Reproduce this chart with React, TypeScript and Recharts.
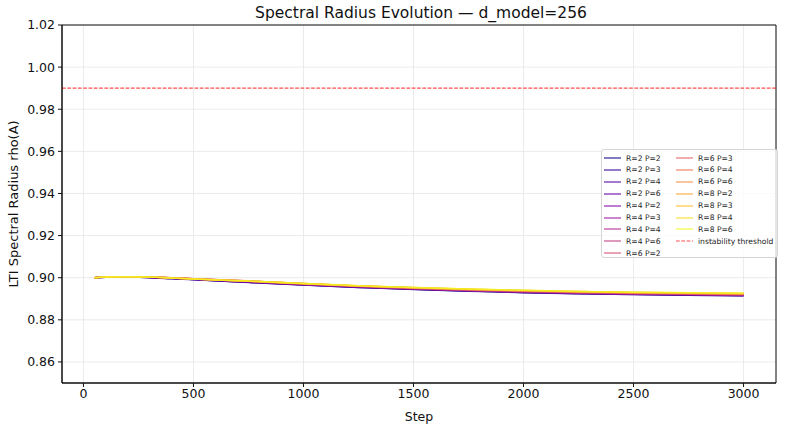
import { LineChart, Line, XAxis, YAxis, CartesianGrid, ReferenceLine, ReferenceArea } from 'recharts';

const steps = [50, 100, 200, 300, 400, 500, 750, 1000, 1250, 1500, 1750, 2000, 2250, 2500, 2750, 3000];

const seriesNames = [
  'R=2 P=2', 'R=2 P=3', 'R=2 P=4', 'R=2 P=6',
  'R=4 P=2', 'R=4 P=3', 'R=4 P=4', 'R=4 P=6',
  'R=6 P=2', 'R=6 P=3', 'R=6 P=4', 'R=6 P=6',
  'R=8 P=2', 'R=8 P=3', 'R=8 P=4', 'R=8 P=6',
];

// plasma colormap, one colour per run
const seriesColors = [
  '#0d0887', '#350498', '#5302a3', '#6a00a8',
  '#8405a7', '#9c179e', '#b12a90', '#c33d80',
  '#d35171', '#e16462', '#ed7953', '#f68f44',
  '#fca636', '#fec029', '#f9dc24', '#f0f921',
];

const r2p2 = [0.9000, 0.9002, 0.9003, 0.9001, 0.8996, 0.8991, 0.8978, 0.8965, 0.8954, 0.8944, 0.8936, 0.8929, 0.8924, 0.8920, 0.8917, 0.8914];
const r2p3 = [0.9000, 0.9002, 0.9003, 0.9000, 0.8995, 0.8990, 0.8977, 0.8965, 0.8954, 0.8945, 0.8937, 0.8930, 0.8925, 0.8921, 0.8918, 0.8915];
const r2p4 = [0.9000, 0.9003, 0.9003, 0.9001, 0.8996, 0.8991, 0.8978, 0.8966, 0.8955, 0.8945, 0.8937, 0.8930, 0.8924, 0.8920, 0.8917, 0.8914];
const r2p6 = [0.9000, 0.9002, 0.9003, 0.9001, 0.8997, 0.8992, 0.8979, 0.8967, 0.8956, 0.8946, 0.8938, 0.8931, 0.8926, 0.8922, 0.8919, 0.8916];
const r4p2 = [0.9000, 0.9003, 0.9004, 0.9002, 0.8998, 0.8993, 0.8981, 0.8968, 0.8957, 0.8947, 0.8939, 0.8933, 0.8927, 0.8923, 0.8920, 0.8917];
const r4p3 = [0.9000, 0.9003, 0.9004, 0.9003, 0.8999, 0.8994, 0.8982, 0.8969, 0.8958, 0.8948, 0.8940, 0.8933, 0.8928, 0.8924, 0.8921, 0.8918];
const r4p4 = [0.9000, 0.9003, 0.9004, 0.9002, 0.8998, 0.8994, 0.8982, 0.8968, 0.8957, 0.8947, 0.8939, 0.8932, 0.8927, 0.8923, 0.8920, 0.8917];
const r4p6 = [0.9000, 0.9003, 0.9004, 0.9003, 0.8999, 0.8995, 0.8983, 0.8970, 0.8959, 0.8949, 0.8941, 0.8935, 0.8929, 0.8925, 0.8922, 0.8919];
const r6p2 = [0.9000, 0.9003, 0.9005, 0.9003, 0.8999, 0.8995, 0.8984, 0.8971, 0.8960, 0.8950, 0.8942, 0.8936, 0.8930, 0.8926, 0.8923, 0.8920];
const r6p3 = [0.9000, 0.9003, 0.9004, 0.9003, 0.9000, 0.8995, 0.8984, 0.8971, 0.8960, 0.8951, 0.8943, 0.8937, 0.8931, 0.8927, 0.8924, 0.8921];
const r6p4 = [0.9000, 0.9003, 0.9005, 0.9003, 0.9000, 0.8995, 0.8985, 0.8972, 0.8961, 0.8951, 0.8944, 0.8937, 0.8932, 0.8928, 0.8925, 0.8922];
const r6p6 = [0.9000, 0.9003, 0.9004, 0.9003, 0.8999, 0.8995, 0.8984, 0.8972, 0.8961, 0.8952, 0.8944, 0.8938, 0.8933, 0.8929, 0.8926, 0.8922];
const r8p2 = [0.9000, 0.9003, 0.9004, 0.9003, 0.8999, 0.8994, 0.8983, 0.8971, 0.8961, 0.8952, 0.8945, 0.8939, 0.8934, 0.8930, 0.8927, 0.8924];
const r8p3 = [0.9000, 0.9003, 0.9004, 0.9003, 0.8999, 0.8994, 0.8984, 0.8972, 0.8962, 0.8953, 0.8945, 0.8939, 0.8934, 0.8930, 0.8928, 0.8925];
const r8p4 = [0.9000, 0.9003, 0.9004, 0.9003, 0.8999, 0.8994, 0.8984, 0.8972, 0.8962, 0.8953, 0.8946, 0.8940, 0.8935, 0.8931, 0.8928, 0.8926];
const r8p6 = [0.9000, 0.9003, 0.9004, 0.9003, 0.8999, 0.8994, 0.8984, 0.8972, 0.8962, 0.8953, 0.8946, 0.8940, 0.8935, 0.8931, 0.8929, 0.8927];

const seriesValues = [r2p2, r2p3, r2p4, r2p6, r4p2, r4p3, r4p4, r4p6, r6p2, r6p3, r6p4, r6p6, r8p2, r8p3, r8p4, r8p6];

const xTicks = [0, 500, 1000, 1500, 2000, 2500, 3000];
const yTicks = [0.86, 0.88, 0.9, 0.92, 0.94, 0.96, 0.98, 1.0, 1.02];
const threshold = 0.99;

const data = steps.map((step, i) => {
  const row: Record<string, number> = { step };
  seriesNames.forEach((name, s) => {
    row[name] = seriesValues[s][i];
  });
  return row;
});

const font = 'DejaVu Sans, sans-serif';
const X_MIN = -97.5;
const X_MAX = 3147.5;
const Y_MIN = 0.85;
const Y_MAX = 1.02;

function LegendBox() {
  const rows = 9;
  return (
    <div
      style={{
        position: 'absolute',
        left: 601,
        top: 149,
        width: 177,
        height: 109,
        boxSizing: 'border-box',
        border: '1px solid #d6d6d6',
        borderRadius: 3,
        background: 'rgba(255,255,255,0.8)',
        fontFamily: font,
        fontSize: 7.6,
        color: '#222',
      }}
    >
      {[...seriesNames, 'instability threshold'].map((name, i) => {
        const col = Math.floor(i / rows);
        const row = i % rows;
        const isThreshold = i === seriesNames.length;
        return (
          <div
            key={name}
            style={{
              position: 'absolute',
              left: col === 0 ? 2 : 74,
              top: 2 + row * 11.9,
              height: 12,
              display: 'flex',
              alignItems: 'center',
              whiteSpace: 'nowrap',
            }}
          >
            <svg width={17} height={4} style={{ marginRight: 5 }}>
              <line
                x1={0}
                x2={17}
                y1={2}
                y2={2}
                stroke={isThreshold ? '#ff0000' : seriesColors[i]}
                strokeOpacity={0.7}
                strokeWidth={isThreshold ? 1.2 : 1.5}
                strokeDasharray={isThreshold ? '3.7 1.6' : undefined}
              />
            </svg>
            <span>{name}</span>
          </div>
        );
      })}
    </div>
  );
}

export default function App() {
  return (
    <div style={{ position: 'absolute', left: 0, top: 0, width: 788, height: 429, background: '#fff' }}>
      <div
        style={{
          position: 'absolute',
          top: 4,
          left: 62,
          width: 718,
          textAlign: 'center',
          fontFamily: font,
          fontSize: 15.5,
          lineHeight: 1.164,
          color: '#111',
        }}
      >
        Spectral Radius Evolution — d_model=256
      </div>
      <LineChart width={788} height={429} data={data} margin={{ top: 25, right: 12, bottom: 0, left: 0 }}>
        <CartesianGrid stroke="#e6e6e6" strokeWidth={0.8} />
        <XAxis
          dataKey="step"
          type="number"
          domain={[X_MIN, X_MAX]}
          ticks={xTicks}
          allowDataOverflow
          height={46}
          tick={{ fontFamily: font, fontSize: 12.5, fill: '#111' }}
          tickSize={4}
          tickLine={{ stroke: '#111' }}
          axisLine={{ stroke: '#111' }}
          label={{ value: 'Step', position: 'insideBottom', offset: 8, fontFamily: font, fontSize: 12.5, fill: '#111' }}
        />
        <YAxis
          type="number"
          domain={[Y_MIN, Y_MAX]}
          ticks={yTicks}
          allowDataOverflow
          width={62}
          tickFormatter={(v: number) => v.toFixed(2)}
          tick={{ fontFamily: font, fontSize: 12.5, fill: '#111' }}
          tickSize={4}
          tickMargin={3}
          tickLine={{ stroke: '#111' }}
          axisLine={{ stroke: '#111' }}
          label={{
            value: 'LTI Spectral Radius rho(A)',
            angle: -90,
            position: 'insideLeft',
            offset: 13,
            style: { textAnchor: 'middle' },
            fontFamily: font,
            fontSize: 13,
            fill: '#111',
          }}
        />
        <ReferenceArea x1={X_MIN} x2={X_MAX} y1={Y_MIN} y2={Y_MAX} fill="none" stroke="#111" strokeWidth={1} />
        <ReferenceLine y={threshold} stroke="#ff0000" strokeOpacity={0.7} strokeWidth={1.2} strokeDasharray="3.7 1.6" />
        {seriesNames.map((name, i) => (
          <Line
            key={name}
            dataKey={name}
            type="monotone"
            stroke={seriesColors[i]}
            strokeOpacity={0.7}
            strokeWidth={1.5}
            dot={false}
            isAnimationActive={false}
          />
        ))}
      </LineChart>
      <LegendBox />
    </div>
  );
}
